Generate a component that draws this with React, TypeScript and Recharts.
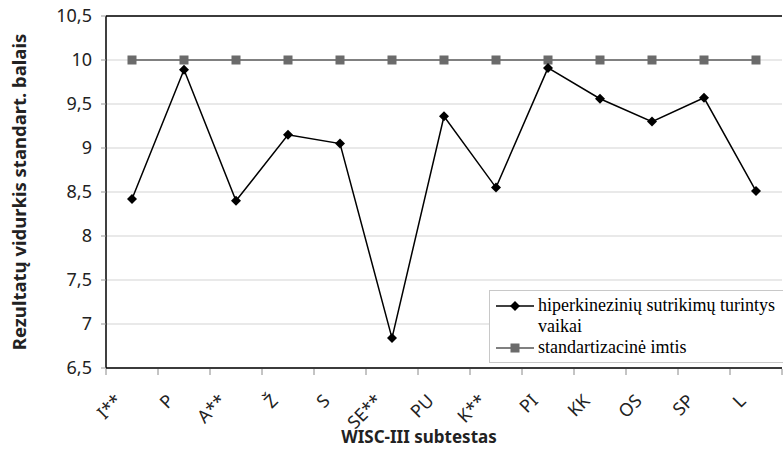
import React from "react";
import { LineChart, Line, XAxis, YAxis, CartesianGrid, ReferenceLine } from "recharts";

const subtests = ["I**", "P", "A**", "Ž", "S", "SE**", "PU", "K**", "PI", "KK", "OS", "SP", "L"];
const hyperkinetic = [8.42, 9.89, 8.4, 9.15, 9.05, 6.84, 9.36, 8.55, 9.91, 9.56, 9.3, 9.57, 8.51];
const standard = [10, 10, 10, 10, 10, 10, 10, 10, 10, 10, 10, 10, 10];
const yTicks = [6.5, 7, 7.5, 8, 8.5, 9, 9.5, 10, 10.5];

const seriesNames = {
  hyper: "hiperkinezinių sutrikimų turintys vaikai",
  std: "standartizacinė imtis",
};

const data = subtests.map((s, i) => ({ name: s, hyper: hyperkinetic[i], std: standard[i] }));

const W = 783;
const H = 458;
const PLOT_LEFT = 106;
const PLOT_RIGHT = 1;
const X_AXIS_H = 90;
const PLOT_BOTTOM = H - X_AXIS_H;
const BAND = (W - PLOT_LEFT - PLOT_RIGHT) / subtests.length;

const sans = "'Noto Sans', 'Open Sans', sans-serif";
const serif = "'Liberation Serif', 'Times New Roman', 'DejaVu Serif', serif";

const Diamond = (props: any) => {
  const { cx, cy } = props;
  if (cx == null || cy == null) return null;
  const r = 5;
  return <polygon points={`${cx},${cy - r} ${cx + r},${cy} ${cx},${cy + r} ${cx - r},${cy}`} fill="#000" />;
};

const Square = (props: any) => {
  const { cx, cy } = props;
  if (cx == null || cy == null) return null;
  return <rect x={cx - 4.5} y={cy - 4.5} width={9} height={9} fill="#6b6b6b" />;
};

const XTick = (props: any) => {
  const { x, payload, index } = props;
  const left = x - BAND / 2;
  const tx = x - 9;
  const ty = PLOT_BOTTOM + 34;
  return (
    <g>
      <line x1={left} y1={PLOT_BOTTOM + 1} x2={left} y2={PLOT_BOTTOM + 7} stroke="#8a8a8a" strokeWidth={1} />
      {index === subtests.length - 1 && (
        <line x1={x + BAND / 2} y1={PLOT_BOTTOM + 1} x2={x + BAND / 2} y2={PLOT_BOTTOM + 7} stroke="#8a8a8a" strokeWidth={1} />
      )}
      <text x={tx} y={ty} transform={`rotate(-45, ${tx}, ${ty})`} textAnchor="end" fontSize={18} fontFamily={sans} fill="#222">
        {payload.value}
      </text>
    </g>
  );
};

const LegendBox = () => (
  <div
    style={{
      position: "absolute",
      left: 489,
      top: 290,
      width: 300,
      border: "1px solid #c8c8c8",
      background: "#fff",
      fontFamily: serif,
      fontSize: 18,
      lineHeight: "21px",
      color: "#000",
      padding: "4px 0 4px 2px",
      boxSizing: "border-box",
    }}
  >
    <div style={{ display: "flex", alignItems: "flex-start" }}>
      <svg width={46} height={21} style={{ flex: "none" }}>
        <line x1={4} y1={11} x2={42} y2={11} stroke="#000" strokeWidth={1.5} />
        <polygon points="23,6 28,11 23,16 18,11" fill="#000" />
      </svg>
      <span style={{ width: 248 }}>{seriesNames.hyper}</span>
    </div>
    <div style={{ display: "flex", alignItems: "flex-start" }}>
      <svg width={46} height={21} style={{ flex: "none" }}>
        <line x1={4} y1={11} x2={42} y2={11} stroke="#808080" strokeWidth={2} />
        <rect x={18.5} y={6.5} width={9} height={9} fill="#6b6b6b" />
      </svg>
      <span>{seriesNames.std}</span>
    </div>
  </div>
);

export default function App() {
  return (
    <div style={{ position: "absolute", left: 0, top: 0, width: W, height: H, background: "#fff", overflow: "hidden" }}>
      <LineChart width={W} height={H} data={data} margin={{ top: 16, right: PLOT_RIGHT, left: 0, bottom: 0 }}>
        <CartesianGrid vertical={false} stroke="#d4d4d4" strokeWidth={1.2} />
        <XAxis
          dataKey="name"
          height={X_AXIS_H}
          padding={{ left: BAND / 2, right: BAND / 2 }}
          tickLine={false}
          axisLine={{ stroke: "#000", strokeWidth: 1.5 }}
          tick={<XTick />}
          interval={0}
          label={{
            value: "WISC-III subtestas",
            content: () => (
              <text x={419} y={443} textAnchor="middle" fontSize={17} fontWeight="bold" fontFamily={sans} fill="#222">
                WISC-III subtestas
              </text>
            ),
          }}
        />
        <YAxis
          width={PLOT_LEFT}
          domain={[6.5, 10.5]}
          ticks={yTicks}
          interval={0}
          tickFormatter={(v: number) => String(v).replace(".", ",")}
          tick={{ fontSize: 18, fontFamily: sans, fill: "#222" }}
          tickLine={{ stroke: "#999" }}
          tickSize={5}
          tickMargin={9}
          axisLine={{ stroke: "#000", strokeWidth: 1.5 }}
          label={{
            value: "Rezultatų vidurkis standart. balais",
            content: (p: any) => {
              const vb = p.viewBox;
              const cy = vb.y + vb.height / 2;
              return (
                <text x={26} y={cy} transform={`rotate(-90, 26, ${cy})`} textAnchor="middle" fontSize={18.5} fontWeight="bold" fontFamily={sans} fill="#222">
                  Rezultatų vidurkis standart. balais
                </text>
              );
            },
          }}
        />
        <YAxis yAxisId="right" orientation="right" width={0} domain={[6.5, 10.5]} tick={false} tickLine={false} axisLine={{ stroke: "#000", strokeWidth: 1.5 }} />
        <ReferenceLine y={10.5} stroke="#000" strokeWidth={1.5} />
        <Line
          type="linear"
          dataKey="std"
          name={seriesNames.std}
          stroke="#808080"
          strokeWidth={2}
          dot={<Square />}
          isAnimationActive={false}
        />
        <Line
          type="linear"
          dataKey="hyper"
          name={seriesNames.hyper}
          stroke="#000"
          strokeWidth={1.5}
          dot={<Diamond />}
          isAnimationActive={false}
        />
      </LineChart>
      <LegendBox />
    </div>
  );
}
